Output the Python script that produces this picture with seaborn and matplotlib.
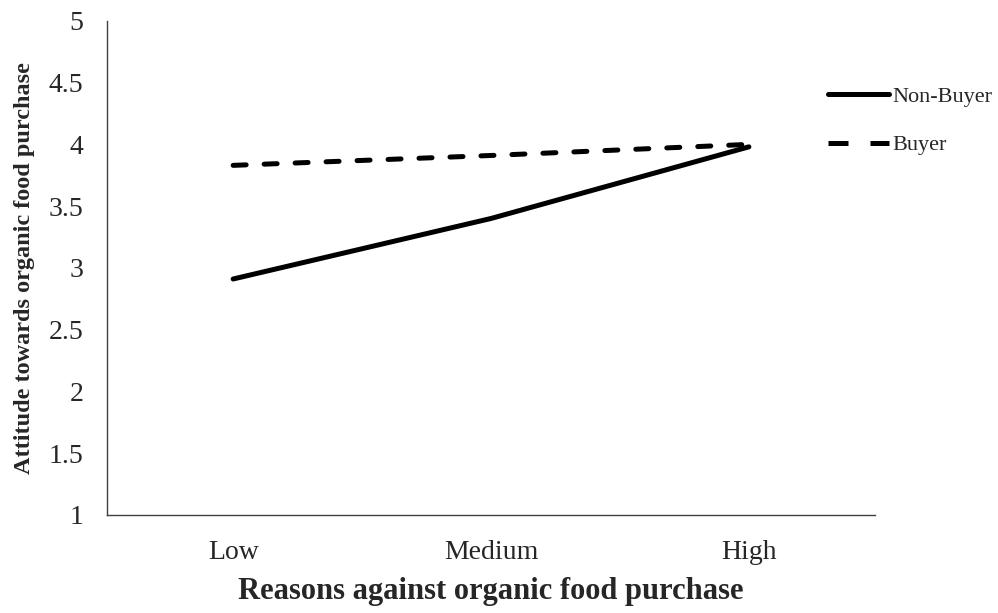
import pandas as pd
import matplotlib
matplotlib.use("Agg")
import matplotlib.pyplot as plt
import seaborn as sns
from matplotlib.ticker import FuncFormatter

levels = ["Low", "Medium", "High"]
non_buyer = [2.91, 3.40, 3.98]
buyer = [3.83, 3.91, 4.00]
groups = ["Non-Buyer", "Buyer"]

df = pd.DataFrame({
    "level": levels * 2,
    "attitude": non_buyer + buyer,
    "group": [groups[0]] * 3 + [groups[1]] * 3,
})

sns.set_style("white")
plt.rcParams['font.family'] = ['Liberation Serif', 'DejaVu Serif']

fig = plt.figure(figsize=(9.98, 6.13), dpi=100)
ax = fig.add_axes([0.107, 0.160, 0.770, 0.806])

sns.lineplot(data=df, x="level", y="attitude", hue="group", style="group",
             palette=["black", "black"], dashes={"Non-Buyer": "", "Buyer": (2.6, 3.6)},
             linewidth=3.6, sort=False, ax=ax)
for ln in ax.get_lines():
    ln.set_dash_capstyle("round")
    ln.set_solid_capstyle("round")

ax.set_ylim(1, 5)
ax.set_xlim(-0.49, 2.49)
ax.set_yticks([1, 1.5, 2, 2.5, 3, 3.5, 4, 4.5, 5])
ax.yaxis.set_major_formatter(FuncFormatter(lambda v, p: f"{v:g}"))
ax.tick_params(axis="both", length=0, labelsize=20)
ax.tick_params(axis="y", pad=17)
ax.tick_params(axis="x", pad=18)

for s in ["top", "right"]:
    ax.spines[s].set_visible(False)
for s in ["left", "bottom"]:
    ax.spines[s].set_color("#404040")
    ax.spines[s].set_linewidth(1.0)

ax.set_xlabel("Reasons against organic food purchase", fontsize=22, fontweight="bold", labelpad=9)
ax.set_ylabel("Attitude towards organic food purchase", fontsize=17.5, fontweight="bold", labelpad=10)

handles, labels = ax.get_legend_handles_labels()
leg = ax.legend(handles, labels, loc="upper left", bbox_to_anchor=(0.927, 0.885),
                frameon=False, fontsize=16, handlelength=2.75, handletextpad=0.15,
                labelspacing=1.25, borderaxespad=0)
for h in leg.get_lines():
    h.set_linewidth(3.6)
    h.set_dash_capstyle("butt")
leg.get_lines()[1].set_dashes([4.0, 4.4])

fig.savefig("out.png", dpi=100)
